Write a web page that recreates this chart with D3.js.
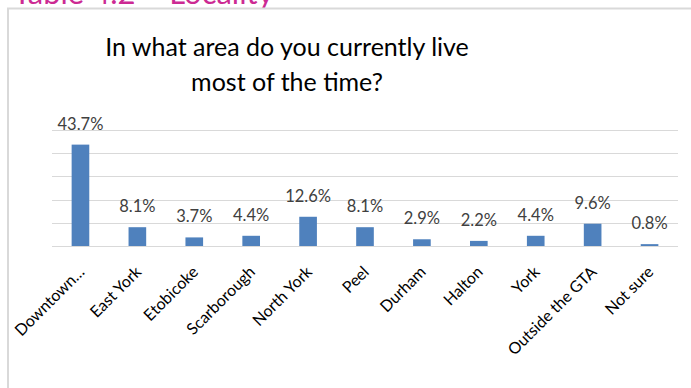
<!DOCTYPE html>
<html>
<head>
<meta charset="utf-8">
<script src="https://cdn.jsdelivr.net/npm/d3@7"></script>
<style>
  html, body { margin: 0; padding: 0; background: #ffffff; }
  svg { display: block; }
  text { font-family: Lato, "Open Sans", sans-serif; }
</style>
</head>
<body>
<svg id="chart" width="691" height="388"></svg>
<script>
// Survey responses: where respondents live most of the time
const categories = ["Downtown…", "East York", "Etobicoke", "Scarborough", "North York",
  "Peel", "Durham", "Halton", "York", "Outside the GTA", "Not sure"];
const values = [43.7, 8.1, 3.7, 4.4, 12.6, 8.1, 2.9, 2.2, 4.4, 9.6, 0.8];
const gridTicks = [0, 10, 20, 30, 40, 50];
const titleLines = ["In what area do you currently live", "most of the time?"];
const headerText = "Table 4.2 – Locality";

const W = 691, H = 388;
const svg = d3.select("#chart");

// page heading, partly above the visible area
svg.append("text")
  .attr("x", 13).attr("y", 3.5)
  .attr("fill", "#cc2a93")
  .attr("font-size", 31)
  .text(headerText);

// chart frame
svg.append("rect")
  .attr("x", 8).attr("y", 8.5)
  .attr("width", 700).attr("height", 400)
  .attr("fill", "#ffffff")
  .attr("stroke", "#d9d9d9").attr("stroke-width", 2);

// title
svg.append("g").selectAll("text")
  .data(titleLines)
  .join("text")
  .attr("x", 287)
  .attr("y", (d, i) => 56 + i * 35)
  .attr("text-anchor", "middle")
  .attr("fill", "#000000")
  .attr("font-size", 25)
  .text(d => d);

const plot = { left: 52, right: 678, top: 130, bottom: 246 };

const x = d3.scaleBand()
  .domain(categories)
  .range([plot.left, plot.right])
  .paddingInner(0.69)
  .paddingOuter(0.345);

const y = d3.scaleLinear()
  .domain([0, 50])
  .range([plot.bottom, plot.top]);

// horizontal gridlines
svg.append("g")
  .selectAll("line")
  .data(gridTicks)
  .join("line")
  .attr("x1", plot.left).attr("x2", plot.right)
  .attr("y1", d => Math.round(y(d)) + 0.5)
  .attr("y2", d => Math.round(y(d)) + 0.5)
  .attr("stroke", "#d9d9d9")
  .attr("stroke-width", 1.2);

// bars
svg.append("g")
  .selectAll("rect")
  .data(values)
  .join("rect")
  .attr("x", (d, i) => x(categories[i]))
  .attr("width", x.bandwidth())
  .attr("y", d => y(d))
  .attr("height", d => y(0) - y(d))
  .attr("fill", "#4f81bd");

// value labels
svg.append("g")
  .selectAll("text")
  .data(values)
  .join("text")
  .attr("x", (d, i) => x(categories[i]) + x.bandwidth() / 2)
  .attr("y", d => y(d) - 15)
  .attr("text-anchor", "middle")
  .attr("fill", "#404040")
  .attr("font-size", 16.5)
  .text(d => d.toFixed(1) + "%");

// category labels, rotated so each ends just below its bar
svg.append("g")
  .selectAll("text")
  .data(categories)
  .join("text")
  .attr("transform", d => `translate(${x(d) + x.bandwidth() / 2 + 5},${plot.bottom + 27}) rotate(-45)`)
  .attr("text-anchor", "end")
  .attr("fill", "#000000")
  .attr("font-size", 16)
  .text(d => d);
</script>
</body>
</html>
